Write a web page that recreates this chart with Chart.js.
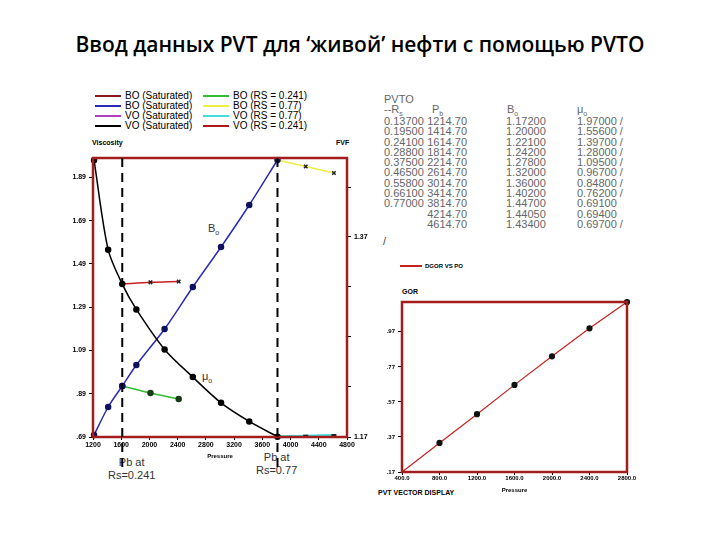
<!DOCTYPE html>
<html>
<head>
<meta charset="utf-8">
<script src="https://cdn.jsdelivr.net/npm/chart.js@4"></script>
<style>
  body { margin: 0; background: #fff; width: 720px; height: 540px; overflow: hidden; position: relative; font-family: "Liberation Sans", Arial, sans-serif; }
  .abs { position: absolute; white-space: nowrap; }
  h1 { position: absolute; left: 0; top: 30px; width: 720px; margin: 0; text-align: center; font: 600 21px "Open Sans", sans-serif; color: #000; }
  .leg { font-size: 10px; line-height: 10px; color: #000; }
  .leg span.sw { display: inline-block; width: 26px; height: 2px; vertical-align: middle; margin-right: 4px; }
  .tiny { font-size: 7px; font-weight: bold; }
  .tbl { font-size: 11px; color: #666; line-height: 10.3px; }
  canvas { position: absolute; }
</style>
</head>
<body>
<h1>Ввод данных PVT для ‘живой’ нефти с помощью PVTO</h1>

<div class="abs leg" style="left:95px;top:91px">
  <div><span class="sw" style="background:#8b1a1a"></span>BO (Saturated)</div>
  <div><span class="sw" style="background:#2a2ab8"></span>BO (Saturated)</div>
  <div><span class="sw" style="background:#b040c0"></span>VO (Saturated)</div>
  <div><span class="sw" style="background:#000"></span>VO (Saturated)</div>
</div>
<div class="abs leg" style="left:203px;top:91px">
  <div><span class="sw" style="background:#33bb33"></span>BO (RS = 0.241)</div>
  <div><span class="sw" style="background:#eeee44"></span>BO (RS = 0.77)</div>
  <div><span class="sw" style="background:#44dddd"></span>VO (RS = 0.77)</div>
  <div><span class="sw" style="background:#b01818"></span>VO (RS = 0.241)</div>
</div>
<div class="abs tiny" style="left:92px;top:139px">Viscosity</div>
<div class="abs tiny" style="left:336px;top:139px">FVF</div>
<div class="abs" style="left:208px;top:222px;font-size:11px;color:#333">B<sub style="font-size:7px">o</sub></div>
<div class="abs" style="left:202px;top:370px;font-size:11px;color:#333">μ<sub style="font-size:7px">o</sub></div>
<div class="abs" style="left:108px;top:456px;font-size:11px;line-height:13px;text-align:center;color:#333">Pb at<br>Rs=0.241</div>
<div class="abs" style="left:256px;top:451px;font-size:11px;line-height:13px;text-align:center;color:#333">Pb at<br>Rs=0.77</div>

<div class="abs tbl" style="left:384px;top:94px">PVTO<br>--R<sub style="font-size:7px">s</sub></div>
<div class="abs tbl" style="left:432px;top:104px">P<sub style="font-size:7px">b</sub></div>
<div class="abs tbl" style="left:507px;top:104px">B<sub style="font-size:7px">o</sub></div>
<div class="abs tbl" style="left:577px;top:104px">μ<sub style="font-size:7px">o</sub></div>
<div class="abs tbl" id="colRs" style="left:384px;top:116px"></div>
<div class="abs tbl" id="colP" style="left:427px;top:116px;text-align:right;width:40px"></div>
<div class="abs tbl" id="colB" style="left:506px;top:116px"></div>
<div class="abs tbl" id="colMu" style="left:577px;top:116px"></div>
<div class="abs tbl" style="left:383px;top:236px;color:#444">/</div>

<div class="abs" style="left:400px;top:263px;font-size:6px;font-weight:bold"><span style="display:inline-block;width:22px;height:2px;background:#c82020;vertical-align:middle;margin-right:3px"></span>DGOR VS PO</div>
<div class="abs tiny" style="left:402px;top:288px">GOR</div>
<div class="abs tiny" style="left:378px;top:489px">PVT VECTOR DISPLAY</div>

<canvas id="main" width="320" height="335" style="left:55px;top:150px;width:320px;height:335px"></canvas>
<canvas id="gor" width="275" height="204" style="left:365px;top:290px;width:275px;height:204px"></canvas>

<script>
// PVTO table
const tableRs = ["0.13700", "0.19500", "0.24100", "0.28800", "0.37500", "0.46500", "0.55800", "0.66100", "0.77000", "", ""];
const tableP = ["1214.70", "1414.70", "1614.70", "1814.70", "2214.70", "2614.70", "3014.70", "3414.70", "3814.70", "4214.70", "4614.70"];
const tableBo = ["1.17200", "1.20000", "1.22100", "1.24200", "1.27800", "1.32000", "1.36000", "1.40200", "1.44700", "1.44050", "1.43400"];
const tableMu = ["1.97000 /", "1.55600 /", "1.39700 /", "1.28000 /", "1.09500 /", "0.96700 /", "0.84800 /", "0.76200 /", "0.69100", "0.69400", "0.69700 /"];

// saturated curves
const satP = [1214.7, 1414.7, 1614.7, 1814.7, 2214.7, 2614.7, 3014.7, 3414.7, 3814.7];
const satBo = [1.172, 1.200, 1.221, 1.242, 1.278, 1.320, 1.360, 1.402, 1.447];
const satMu = [1.970, 1.556, 1.397, 1.280, 1.095, 0.967, 0.848, 0.762, 0.691];

// undersaturated branches
const usP241 = [1614.7, 2014.7, 2414.7];
const usBo241 = [1.221, 1.214, 1.208];
const usMu241 = [1.397, 1.405, 1.409];
const usP77 = [3814.7, 4214.7, 4614.7];
const usBo77 = [1.447, 1.4405, 1.434];
const usMu77 = [0.691, 0.694, 0.697];

const visTicks = [0.69, 0.89, 1.09, 1.29, 1.49, 1.69, 1.89];
const fvfTicks = [1.17, 1.22, 1.27, 1.32, 1.37, 1.42];
const fvfLabels = [1.17, 1.37];
const pbLines = [1614.7, 3814.7];

// GOR vs pressure
const gorP = [400, 800, 1200, 1600, 2000, 2400, 2800];
const gorVal = [0.17, 0.336, 0.50, 0.667, 0.83, 0.99, 1.14];
const gorTicks = [0.17, 0.37, 0.57, 0.77, 0.97];
const gorTickLabels = [".17", ".37", ".57", ".77", ".97"];

document.getElementById("colRs").innerHTML = tableRs.map(v => v || "&nbsp;").join("<br>");
document.getElementById("colP").innerHTML = tableP.join("<br>");
document.getElementById("colB").innerHTML = tableBo.join("<br>");
document.getElementById("colMu").innerHTML = tableMu.join("<br>");

const xy = (xs, ys) => xs.map((x, i) => ({ x: x, y: ys[i] }));
const tickFont = { size: 7, weight: 'bold', family: 'Liberation Sans' };

const frame = {
  id: 'frame',
  afterDraw(chart) {
    const a = chart.chartArea, ctx = chart.ctx;
    ctx.save();
    ctx.strokeStyle = '#a31d1d';
    ctx.lineWidth = 2.5;
    ctx.strokeRect(a.left, a.top, a.right - a.left, a.bottom - a.top);
    if (chart.canvas.id === 'main') {
      ctx.strokeStyle = '#000';
      ctx.lineWidth = 2;
      ctx.setLineDash([9, 6]);
      pbLines.forEach(p => {
        const x = chart.scales.x.getPixelForValue(p);
        ctx.beginPath();
        ctx.moveTo(x, a.top);
        ctx.lineTo(x, a.bottom + 32);
        ctx.stroke();
      });
    }
    ctx.restore();
  }
};

function line(data, color, axis, pointStyle, ptColor, width) {
  return {
    data: data, yAxisID: axis, borderColor: color, borderWidth: width || 1.5,
    pointStyle: pointStyle, pointRadius: 2.5, pointBackgroundColor: ptColor,
    pointBorderColor: ptColor, tension: 0.3, clip: false
  };
}

new Chart(document.getElementById("main"), {
  type: 'line',
  data: {
    datasets: [
      line(xy(satP, satMu), '#000', 'y', 'circle', '#000', 1.5),
      line(xy(satP, satBo), '#2a2ab8', 'y1', 'circle', '#101060', 1.5),
      line(xy(usP241, usBo241), '#33bb33', 'y1', 'circle', '#1a3a1a'),
      line(xy(usP241, usMu241), '#cc2020', 'y', 'crossRot', '#222'),
      line(xy(usP77, usBo77), '#eeee44', 'y1', 'crossRot', '#222'),
      line(xy(usP77, usMu77), '#44dddd', 'y', 'line', '#222', 3)
    ]
  },
  options: {
    responsive: false, animation: false,
    layout: { padding: { top: 8, bottom: 25, left: 0, right: 0 } },
    plugins: { legend: { display: false }, tooltip: { enabled: false } },
    scales: {
      x: {
        type: 'linear', min: 1200, max: 4800,
        ticks: { stepSize: 400, font: tickFont, color: '#000', padding: 1, callback: v => String(v) },
        grid: { drawOnChartArea: false, tickLength: 3, color: '#000' },
        title: { display: true, text: 'Pressure', font: { size: 6, weight: 'bold' }, color: '#000', padding: 0 },
        afterFit: s => { s.height = 23; }
      },
      y: {
        min: 0.69, max: 1.98,
        afterBuildTicks: s => { s.ticks = visTicks.map(v => ({ value: v })); },
        ticks: { font: tickFont, color: '#000', callback: v => v < 1 ? '.' + Math.round(v * 100) : v.toFixed(2) },
        grid: { drawOnChartArea: false, tickLength: 4, color: '#000' },
        afterFit: s => { s.width = 38; }
      },
      y1: {
        position: 'right', min: 1.17, max: 1.449,
        afterBuildTicks: s => { s.ticks = fvfTicks.map(v => ({ value: v })); },
        ticks: { font: tickFont, color: '#000', callback: v => fvfLabels.some(l => Math.abs(l - v) < 1e-6) ? v.toFixed(2) : '' },
        grid: { drawOnChartArea: false, tickLength: 4, color: '#000' },
        afterFit: s => { s.width = 28; }
      }
    }
  },
  plugins: [frame]
});

new Chart(document.getElementById("gor"), {
  type: 'line',
  data: {
    datasets: [{
      data: xy(gorP, gorVal), borderColor: '#c82020', borderWidth: 1.2, clip: false,
      pointRadius: [0, 2.5, 2.5, 2.5, 2.5, 2.5, 2.5], pointBackgroundColor: '#111', pointBorderColor: '#111'
    }]
  },
  options: {
    responsive: false, animation: false,
    layout: { padding: { top: 12, right: 13, left: 0, bottom: 0 } },
    plugins: { legend: { display: false }, tooltip: { enabled: false } },
    scales: {
      x: {
        type: 'linear', min: 400, max: 2800,
        ticks: { stepSize: 400, font: { size: 6, weight: 'bold' }, color: '#000', padding: 0, callback: v => v.toFixed(1) },
        grid: { drawOnChartArea: false, tickLength: 3, color: '#000' },
        title: { display: true, text: 'Pressure', font: { size: 6, weight: 'bold' }, color: '#000', padding: 0 },
        afterFit: s => { s.height = 22; }
      },
      y: {
        min: 0.17, max: 1.14,
        afterBuildTicks: s => { s.ticks = gorTicks.map(v => ({ value: v })); },
        ticks: { font: { size: 6, weight: 'bold' }, color: '#000', callback: (v, i) => gorTickLabels[i] },
        grid: { drawOnChartArea: false, tickLength: 4, color: '#000' },
        afterFit: s => { s.width = 37; }
      }
    }
  },
  plugins: [frame]
});
</script>
</body>
</html>
